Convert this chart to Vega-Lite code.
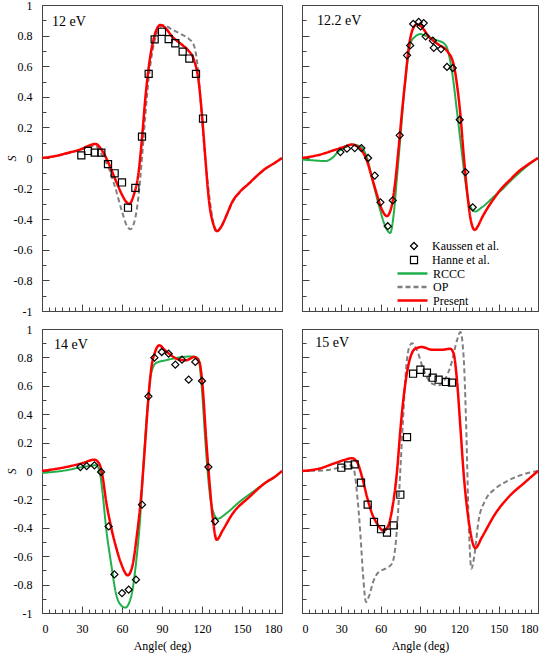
{
  "$schema": "https://vega.github.io/schema/vega-lite/v6.json",
  "padding": {"left": 4, "top": -2, "right": 5, "bottom": 2},
  "background": "white",
  "config": {
    "font": "Liberation Serif",
    "view": {"stroke": "#444444", "strokeWidth": 1},
    "axis": {
      "grid": false,
      "domainColor": "#444444",
      "tickColor": "#444444",
      "labelFont": "Liberation Serif",
      "labelFontSize": 12,
      "labelColor": "black",
      "labelOverlap": false,
      "tickCount": 100,
      "titleFont": "Liberation Serif",
      "titleFontSize": 12,
      "titleFontWeight": "normal",
      "titleColor": "black"
    },
    "legend": {
      "labelFont": "Liberation Serif",
      "labelFontSize": 12,
      "labelColor": "black"
    }
  },
  "datasets": {
    "curves": [
      {"panel": "12 eV", "series": "Present", "angle": 0, "S": 0},
      {"panel": "12 eV", "series": "Present", "angle": 10, "S": 0.013},
      {"panel": "12 eV", "series": "Present", "angle": 20, "S": 0.035},
      {"panel": "12 eV", "series": "Present", "angle": 30, "S": 0.06},
      {"panel": "12 eV", "series": "Present", "angle": 35, "S": 0.08},
      {"panel": "12 eV", "series": "Present", "angle": 40, "S": 0.092},
      {"panel": "12 eV", "series": "Present", "angle": 45, "S": 0.05},
      {"panel": "12 eV", "series": "Present", "angle": 50, "S": -0.035},
      {"panel": "12 eV", "series": "Present", "angle": 55, "S": -0.14},
      {"panel": "12 eV", "series": "Present", "angle": 60, "S": -0.24},
      {"panel": "12 eV", "series": "Present", "angle": 63, "S": -0.285},
      {"panel": "12 eV", "series": "Present", "angle": 65.5, "S": -0.3},
      {"panel": "12 eV", "series": "Present", "angle": 68.5, "S": -0.25},
      {"panel": "12 eV", "series": "Present", "angle": 72.5, "S": -0.09},
      {"panel": "12 eV", "series": "Present", "angle": 75, "S": 0.13},
      {"panel": "12 eV", "series": "Present", "angle": 77.5, "S": 0.39},
      {"panel": "12 eV", "series": "Present", "angle": 80, "S": 0.59},
      {"panel": "12 eV", "series": "Present", "angle": 83.8, "S": 0.78},
      {"panel": "12 eV", "series": "Present", "angle": 86.5, "S": 0.85},
      {"panel": "12 eV", "series": "Present", "angle": 88.8, "S": 0.87},
      {"panel": "12 eV", "series": "Present", "angle": 92.5, "S": 0.85},
      {"panel": "12 eV", "series": "Present", "angle": 97.5, "S": 0.795},
      {"panel": "12 eV", "series": "Present", "angle": 105, "S": 0.74},
      {"panel": "12 eV", "series": "Present", "angle": 110, "S": 0.7},
      {"panel": "12 eV", "series": "Present", "angle": 113.8, "S": 0.645},
      {"panel": "12 eV", "series": "Present", "angle": 117.5, "S": 0.5},
      {"panel": "12 eV", "series": "Present", "angle": 120, "S": 0.28},
      {"panel": "12 eV", "series": "Present", "angle": 122.5, "S": 0},
      {"panel": "12 eV", "series": "Present", "angle": 125, "S": -0.26},
      {"panel": "12 eV", "series": "Present", "angle": 128.8, "S": -0.44},
      {"panel": "12 eV", "series": "Present", "angle": 131.3, "S": -0.478},
      {"panel": "12 eV", "series": "Present", "angle": 135, "S": -0.44},
      {"panel": "12 eV", "series": "Present", "angle": 138.8, "S": -0.365},
      {"panel": "12 eV", "series": "Present", "angle": 142.5, "S": -0.29},
      {"panel": "12 eV", "series": "Present", "angle": 148, "S": -0.225},
      {"panel": "12 eV", "series": "Present", "angle": 155, "S": -0.168},
      {"panel": "12 eV", "series": "Present", "angle": 162, "S": -0.11},
      {"panel": "12 eV", "series": "Present", "angle": 167.5, "S": -0.07},
      {"panel": "12 eV", "series": "Present", "angle": 174, "S": -0.035},
      {"panel": "12 eV", "series": "Present", "angle": 180, "S": 0},

      {"panel": "12 eV", "series": "OP", "angle": 0, "S": 0},
      {"panel": "12 eV", "series": "OP", "angle": 10, "S": 0.012},
      {"panel": "12 eV", "series": "OP", "angle": 20, "S": 0.033},
      {"panel": "12 eV", "series": "OP", "angle": 30, "S": 0.058},
      {"panel": "12 eV", "series": "OP", "angle": 35, "S": 0.075},
      {"panel": "12 eV", "series": "OP", "angle": 40, "S": 0.08},
      {"panel": "12 eV", "series": "OP", "angle": 45, "S": 0.02},
      {"panel": "12 eV", "series": "OP", "angle": 50, "S": -0.065},
      {"panel": "12 eV", "series": "OP", "angle": 55, "S": -0.196},
      {"panel": "12 eV", "series": "OP", "angle": 60, "S": -0.35},
      {"panel": "12 eV", "series": "OP", "angle": 63.8, "S": -0.446},
      {"panel": "12 eV", "series": "OP", "angle": 66.3, "S": -0.465},
      {"panel": "12 eV", "series": "OP", "angle": 70, "S": -0.39},
      {"panel": "12 eV", "series": "OP", "angle": 72.5, "S": -0.24},
      {"panel": "12 eV", "series": "OP", "angle": 75, "S": 0},
      {"panel": "12 eV", "series": "OP", "angle": 77.5, "S": 0.28},
      {"panel": "12 eV", "series": "OP", "angle": 80, "S": 0.52},
      {"panel": "12 eV", "series": "OP", "angle": 83.8, "S": 0.74},
      {"panel": "12 eV", "series": "OP", "angle": 87.5, "S": 0.84},
      {"panel": "12 eV", "series": "OP", "angle": 91.3, "S": 0.867},
      {"panel": "12 eV", "series": "OP", "angle": 97.5, "S": 0.84},
      {"panel": "12 eV", "series": "OP", "angle": 105, "S": 0.806},
      {"panel": "12 eV", "series": "OP", "angle": 110, "S": 0.78},
      {"panel": "12 eV", "series": "OP", "angle": 113.8, "S": 0.74},
      {"panel": "12 eV", "series": "OP", "angle": 116.3, "S": 0.63},
      {"panel": "12 eV", "series": "OP", "angle": 118.8, "S": 0.39},
      {"panel": "12 eV", "series": "OP", "angle": 121.3, "S": 0.11},
      {"panel": "12 eV", "series": "OP", "angle": 125, "S": -0.216},
      {"panel": "12 eV", "series": "OP", "angle": 128.8, "S": -0.436},
      {"panel": "12 eV", "series": "OP", "angle": 130.8, "S": -0.485},
      {"panel": "12 eV", "series": "OP", "angle": 134, "S": -0.45},
      {"panel": "12 eV", "series": "OP", "angle": 138.8, "S": -0.37},
      {"panel": "12 eV", "series": "OP", "angle": 142.5, "S": -0.295},
      {"panel": "12 eV", "series": "OP", "angle": 148, "S": -0.228},
      {"panel": "12 eV", "series": "OP", "angle": 155, "S": -0.17},
      {"panel": "12 eV", "series": "OP", "angle": 162, "S": -0.112},
      {"panel": "12 eV", "series": "OP", "angle": 167.5, "S": -0.072},
      {"panel": "12 eV", "series": "OP", "angle": 174, "S": -0.036},
      {"panel": "12 eV", "series": "OP", "angle": 180, "S": 0},

      {"panel": "12.2 eV", "series": "Present", "angle": 0, "S": 0},
      {"panel": "12.2 eV", "series": "Present", "angle": 12.7, "S": 0.02},
      {"panel": "12.2 eV", "series": "Present", "angle": 25.4, "S": 0.054},
      {"panel": "12.2 eV", "series": "Present", "angle": 33, "S": 0.075},
      {"panel": "12.2 eV", "series": "Present", "angle": 38, "S": 0.088},
      {"panel": "12.2 eV", "series": "Present", "angle": 44.5, "S": 0.06},
      {"panel": "12.2 eV", "series": "Present", "angle": 49.6, "S": -0.02},
      {"panel": "12.2 eV", "series": "Present", "angle": 53.4, "S": -0.13},
      {"panel": "12.2 eV", "series": "Present", "angle": 57.2, "S": -0.24},
      {"panel": "12.2 eV", "series": "Present", "angle": 61, "S": -0.338},
      {"panel": "12.2 eV", "series": "Present", "angle": 64.8, "S": -0.38},
      {"panel": "12.2 eV", "series": "Present", "angle": 68.6, "S": -0.305},
      {"panel": "12.2 eV", "series": "Present", "angle": 71.2, "S": -0.15},
      {"panel": "12.2 eV", "series": "Present", "angle": 73.7, "S": 0.065},
      {"panel": "12.2 eV", "series": "Present", "angle": 76.3, "S": 0.305},
      {"panel": "12.2 eV", "series": "Present", "angle": 78.9, "S": 0.52},
      {"panel": "12.2 eV", "series": "Present", "angle": 81.4, "S": 0.72},
      {"panel": "12.2 eV", "series": "Present", "angle": 84.4, "S": 0.84},
      {"panel": "12.2 eV", "series": "Present", "angle": 87.7, "S": 0.875},
      {"panel": "12.2 eV", "series": "Present", "angle": 91.5, "S": 0.854},
      {"panel": "12.2 eV", "series": "Present", "angle": 96.6, "S": 0.795},
      {"panel": "12.2 eV", "series": "Present", "angle": 104.3, "S": 0.74},
      {"panel": "12.2 eV", "series": "Present", "angle": 110.6, "S": 0.7},
      {"panel": "12.2 eV", "series": "Present", "angle": 115.7, "S": 0.61},
      {"panel": "12.2 eV", "series": "Present", "angle": 118.2, "S": 0.48},
      {"panel": "12.2 eV", "series": "Present", "angle": 120.8, "S": 0.283},
      {"panel": "12.2 eV", "series": "Present", "angle": 123.3, "S": 0.022},
      {"panel": "12.2 eV", "series": "Present", "angle": 125.9, "S": -0.218},
      {"panel": "12.2 eV", "series": "Present", "angle": 128.4, "S": -0.39},
      {"panel": "12.2 eV", "series": "Present", "angle": 131.7, "S": -0.47},
      {"panel": "12.2 eV", "series": "Present", "angle": 134.5, "S": -0.44},
      {"panel": "12.2 eV", "series": "Present", "angle": 137.3, "S": -0.39},
      {"panel": "12.2 eV", "series": "Present", "angle": 139.9, "S": -0.35},
      {"panel": "12.2 eV", "series": "Present", "angle": 146, "S": -0.27},
      {"panel": "12.2 eV", "series": "Present", "angle": 152.5, "S": -0.196},
      {"panel": "12.2 eV", "series": "Present", "angle": 159, "S": -0.14},
      {"panel": "12.2 eV", "series": "Present", "angle": 165.3, "S": -0.087},
      {"panel": "12.2 eV", "series": "Present", "angle": 172, "S": -0.045},
      {"panel": "12.2 eV", "series": "Present", "angle": 180, "S": 0},

      {"panel": "12.2 eV", "series": "RCCC", "angle": 0, "S": -0.01},
      {"panel": "12.2 eV", "series": "RCCC", "angle": 8, "S": -0.015},
      {"panel": "12.2 eV", "series": "RCCC", "angle": 17.8, "S": -0.02},
      {"panel": "12.2 eV", "series": "RCCC", "angle": 23, "S": 0},
      {"panel": "12.2 eV", "series": "RCCC", "angle": 28, "S": 0.044},
      {"panel": "12.2 eV", "series": "RCCC", "angle": 33, "S": 0.07},
      {"panel": "12.2 eV", "series": "RCCC", "angle": 38, "S": 0.087},
      {"panel": "12.2 eV", "series": "RCCC", "angle": 44.5, "S": 0.076},
      {"panel": "12.2 eV", "series": "RCCC", "angle": 49.6, "S": 0},
      {"panel": "12.2 eV", "series": "RCCC", "angle": 53.4, "S": -0.13},
      {"panel": "12.2 eV", "series": "RCCC", "angle": 58.5, "S": -0.305},
      {"panel": "12.2 eV", "series": "RCCC", "angle": 63.5, "S": -0.446},
      {"panel": "12.2 eV", "series": "RCCC", "angle": 67.3, "S": -0.49},
      {"panel": "12.2 eV", "series": "RCCC", "angle": 69.9, "S": -0.37},
      {"panel": "12.2 eV", "series": "RCCC", "angle": 72.4, "S": -0.13},
      {"panel": "12.2 eV", "series": "RCCC", "angle": 75, "S": 0.13},
      {"panel": "12.2 eV", "series": "RCCC", "angle": 77.5, "S": 0.39},
      {"panel": "12.2 eV", "series": "RCCC", "angle": 80.1, "S": 0.61},
      {"panel": "12.2 eV", "series": "RCCC", "angle": 82.7, "S": 0.75},
      {"panel": "12.2 eV", "series": "RCCC", "angle": 86.5, "S": 0.795},
      {"panel": "12.2 eV", "series": "RCCC", "angle": 90.3, "S": 0.81},
      {"panel": "12.2 eV", "series": "RCCC", "angle": 95.4, "S": 0.795},
      {"panel": "12.2 eV", "series": "RCCC", "angle": 101.7, "S": 0.773},
      {"panel": "12.2 eV", "series": "RCCC", "angle": 108.1, "S": 0.75},
      {"panel": "12.2 eV", "series": "RCCC", "angle": 110.6, "S": 0.72},
      {"panel": "12.2 eV", "series": "RCCC", "angle": 114.4, "S": 0.567},
      {"panel": "12.2 eV", "series": "RCCC", "angle": 118.2, "S": 0.305},
      {"panel": "12.2 eV", "series": "RCCC", "angle": 121.5, "S": 0.065},
      {"panel": "12.2 eV", "series": "RCCC", "angle": 124.6, "S": -0.152},
      {"panel": "12.2 eV", "series": "RCCC", "angle": 127.7, "S": -0.305},
      {"panel": "12.2 eV", "series": "RCCC", "angle": 132.2, "S": -0.35},
      {"panel": "12.2 eV", "series": "RCCC", "angle": 136, "S": -0.33},
      {"panel": "12.2 eV", "series": "RCCC", "angle": 139.8, "S": -0.305},
      {"panel": "12.2 eV", "series": "RCCC", "angle": 146, "S": -0.255},
      {"panel": "12.2 eV", "series": "RCCC", "angle": 152.5, "S": -0.207},
      {"panel": "12.2 eV", "series": "RCCC", "angle": 159, "S": -0.15},
      {"panel": "12.2 eV", "series": "RCCC", "angle": 165.3, "S": -0.1},
      {"panel": "12.2 eV", "series": "RCCC", "angle": 172, "S": -0.05},
      {"panel": "12.2 eV", "series": "RCCC", "angle": 180, "S": 0},

      {"panel": "14 eV", "series": "Present", "angle": 0, "S": 0},
      {"panel": "14 eV", "series": "Present", "angle": 18, "S": 0.028},
      {"panel": "14 eV", "series": "Present", "angle": 30.5, "S": 0.056},
      {"panel": "14 eV", "series": "Present", "angle": 39.3, "S": 0.08},
      {"panel": "14 eV", "series": "Present", "angle": 43, "S": 0.05},
      {"panel": "14 eV", "series": "Present", "angle": 45.5, "S": -0.042},
      {"panel": "14 eV", "series": "Present", "angle": 48, "S": -0.207},
      {"panel": "14 eV", "series": "Present", "angle": 51.8, "S": -0.394},
      {"panel": "14 eV", "series": "Present", "angle": 55.5, "S": -0.535},
      {"panel": "14 eV", "series": "Present", "angle": 59.3, "S": -0.65},
      {"panel": "14 eV", "series": "Present", "angle": 64.3, "S": -0.735},
      {"panel": "14 eV", "series": "Present", "angle": 68, "S": -0.66},
      {"panel": "14 eV", "series": "Present", "angle": 71, "S": -0.465},
      {"panel": "14 eV", "series": "Present", "angle": 74.3, "S": -0.183},
      {"panel": "14 eV", "series": "Present", "angle": 76.8, "S": 0.122},
      {"panel": "14 eV", "series": "Present", "angle": 79.3, "S": 0.45},
      {"panel": "14 eV", "series": "Present", "angle": 81.8, "S": 0.71},
      {"panel": "14 eV", "series": "Present", "angle": 84.8, "S": 0.838},
      {"panel": "14 eV", "series": "Present", "angle": 88, "S": 0.885},
      {"panel": "14 eV", "series": "Present", "angle": 91.8, "S": 0.854},
      {"panel": "14 eV", "series": "Present", "angle": 96.8, "S": 0.815},
      {"panel": "14 eV", "series": "Present", "angle": 103, "S": 0.784},
      {"panel": "14 eV", "series": "Present", "angle": 108, "S": 0.78},
      {"panel": "14 eV", "series": "Present", "angle": 114.3, "S": 0.803},
      {"panel": "14 eV", "series": "Present", "angle": 118, "S": 0.768},
      {"panel": "14 eV", "series": "Present", "angle": 120.5, "S": 0.59},
      {"panel": "14 eV", "series": "Present", "angle": 123, "S": 0.24},
      {"panel": "14 eV", "series": "Present", "angle": 125.5, "S": -0.066},
      {"panel": "14 eV", "series": "Present", "angle": 128, "S": -0.324},
      {"panel": "14 eV", "series": "Present", "angle": 131, "S": -0.484},
      {"panel": "14 eV", "series": "Present", "angle": 135.5, "S": -0.418},
      {"panel": "14 eV", "series": "Present", "angle": 143, "S": -0.3},
      {"panel": "14 eV", "series": "Present", "angle": 155.5, "S": -0.183},
      {"panel": "14 eV", "series": "Present", "angle": 168, "S": -0.08},
      {"panel": "14 eV", "series": "Present", "angle": 174, "S": -0.045},
      {"panel": "14 eV", "series": "Present", "angle": 180, "S": 0},

      {"panel": "14 eV", "series": "RCCC", "angle": 0, "S": -0.014},
      {"panel": "14 eV", "series": "RCCC", "angle": 18, "S": 0.005},
      {"panel": "14 eV", "series": "RCCC", "angle": 30.5, "S": 0.028},
      {"panel": "14 eV", "series": "RCCC", "angle": 40.5, "S": 0.04},
      {"panel": "14 eV", "series": "RCCC", "angle": 43, "S": 0.005},
      {"panel": "14 eV", "series": "RCCC", "angle": 45.5, "S": -0.16},
      {"panel": "14 eV", "series": "RCCC", "angle": 48, "S": -0.394},
      {"panel": "14 eV", "series": "RCCC", "angle": 51.8, "S": -0.65},
      {"panel": "14 eV", "series": "RCCC", "angle": 55.5, "S": -0.864},
      {"panel": "14 eV", "series": "RCCC", "angle": 59.3, "S": -0.946},
      {"panel": "14 eV", "series": "RCCC", "angle": 62.5, "S": -0.962},
      {"panel": "14 eV", "series": "RCCC", "angle": 66.8, "S": -0.887},
      {"panel": "14 eV", "series": "RCCC", "angle": 70.5, "S": -0.65},
      {"panel": "14 eV", "series": "RCCC", "angle": 73.5, "S": -0.347},
      {"panel": "14 eV", "series": "RCCC", "angle": 76, "S": 0.028},
      {"panel": "14 eV", "series": "RCCC", "angle": 78.5, "S": 0.38},
      {"panel": "14 eV", "series": "RCCC", "angle": 81.8, "S": 0.685},
      {"panel": "14 eV", "series": "RCCC", "angle": 85.5, "S": 0.76},
      {"panel": "14 eV", "series": "RCCC", "angle": 93, "S": 0.78},
      {"panel": "14 eV", "series": "RCCC", "angle": 103, "S": 0.8},
      {"panel": "14 eV", "series": "RCCC", "angle": 113, "S": 0.807},
      {"panel": "14 eV", "series": "RCCC", "angle": 117.3, "S": 0.79},
      {"panel": "14 eV", "series": "RCCC", "angle": 119.8, "S": 0.59},
      {"panel": "14 eV", "series": "RCCC", "angle": 122.3, "S": 0.24},
      {"panel": "14 eV", "series": "RCCC", "angle": 124.8, "S": -0.066},
      {"panel": "14 eV", "series": "RCCC", "angle": 128, "S": -0.277},
      {"panel": "14 eV", "series": "RCCC", "angle": 131.8, "S": -0.336},
      {"panel": "14 eV", "series": "RCCC", "angle": 138, "S": -0.3},
      {"panel": "14 eV", "series": "RCCC", "angle": 148, "S": -0.218},
      {"panel": "14 eV", "series": "RCCC", "angle": 158, "S": -0.148},
      {"panel": "14 eV", "series": "RCCC", "angle": 168, "S": -0.08},
      {"panel": "14 eV", "series": "RCCC", "angle": 174, "S": -0.045},
      {"panel": "14 eV", "series": "RCCC", "angle": 180, "S": 0},

      {"panel": "15 eV", "series": "Present", "angle": 0, "S": 0},
      {"panel": "15 eV", "series": "Present", "angle": 12.7, "S": 0.016},
      {"panel": "15 eV", "series": "Present", "angle": 25.4, "S": 0.056},
      {"panel": "15 eV", "series": "Present", "angle": 33, "S": 0.08},
      {"panel": "15 eV", "series": "Present", "angle": 38.1, "S": 0.09},
      {"panel": "15 eV", "series": "Present", "angle": 42, "S": 0.063},
      {"panel": "15 eV", "series": "Present", "angle": 45.8, "S": -0.042},
      {"panel": "15 eV", "series": "Present", "angle": 49.6, "S": -0.183},
      {"panel": "15 eV", "series": "Present", "angle": 53.4, "S": -0.3},
      {"panel": "15 eV", "series": "Present", "angle": 57.2, "S": -0.37},
      {"panel": "15 eV", "series": "Present", "angle": 62.3, "S": -0.42},
      {"panel": "15 eV", "series": "Present", "angle": 65.6, "S": -0.39},
      {"panel": "15 eV", "series": "Present", "angle": 68.6, "S": -0.277},
      {"panel": "15 eV", "series": "Present", "angle": 72.5, "S": 0},
      {"panel": "15 eV", "series": "Present", "angle": 75, "S": 0.286},
      {"panel": "15 eV", "series": "Present", "angle": 77.5, "S": 0.52},
      {"panel": "15 eV", "series": "Present", "angle": 81.4, "S": 0.756},
      {"panel": "15 eV", "series": "Present", "angle": 86.4, "S": 0.861},
      {"panel": "15 eV", "series": "Present", "angle": 91.5, "S": 0.873},
      {"panel": "15 eV", "series": "Present", "angle": 99.2, "S": 0.854},
      {"panel": "15 eV", "series": "Present", "angle": 106.8, "S": 0.854},
      {"panel": "15 eV", "series": "Present", "angle": 113.1, "S": 0.861},
      {"panel": "15 eV", "series": "Present", "angle": 115.7, "S": 0.826},
      {"panel": "15 eV", "series": "Present", "angle": 118.2, "S": 0.638},
      {"panel": "15 eV", "series": "Present", "angle": 120.8, "S": 0.31},
      {"panel": "15 eV", "series": "Present", "angle": 123.3, "S": -0.019},
      {"panel": "15 eV", "series": "Present", "angle": 127.1, "S": -0.347},
      {"panel": "15 eV", "series": "Present", "angle": 132.2, "S": -0.542},
      {"panel": "15 eV", "series": "Present", "angle": 137.3, "S": -0.465},
      {"panel": "15 eV", "series": "Present", "angle": 147.5, "S": -0.3},
      {"panel": "15 eV", "series": "Present", "angle": 157.6, "S": -0.183},
      {"panel": "15 eV", "series": "Present", "angle": 170.4, "S": -0.077},
      {"panel": "15 eV", "series": "Present", "angle": 180, "S": 0},

      {"panel": "15 eV", "series": "OP", "angle": 0, "S": 0},
      {"panel": "15 eV", "series": "OP", "angle": 17.8, "S": 0.005},
      {"panel": "15 eV", "series": "OP", "angle": 30.5, "S": 0.028},
      {"panel": "15 eV", "series": "OP", "angle": 36.9, "S": 0.04},
      {"panel": "15 eV", "series": "OP", "angle": 39.4, "S": 0.016},
      {"panel": "15 eV", "series": "OP", "angle": 42, "S": -0.16},
      {"panel": "15 eV", "series": "OP", "angle": 44.5, "S": -0.44},
      {"panel": "15 eV", "series": "OP", "angle": 46.5, "S": -0.723},
      {"panel": "15 eV", "series": "OP", "angle": 48.8, "S": -0.923},
      {"panel": "15 eV", "series": "OP", "angle": 50.9, "S": -0.887},
      {"panel": "15 eV", "series": "OP", "angle": 54.7, "S": -0.77},
      {"panel": "15 eV", "series": "OP", "angle": 58.5, "S": -0.711},
      {"panel": "15 eV", "series": "OP", "angle": 63.6, "S": -0.688},
      {"panel": "15 eV", "series": "OP", "angle": 68.6, "S": -0.653},
      {"panel": "15 eV", "series": "OP", "angle": 71.2, "S": -0.535},
      {"panel": "15 eV", "series": "OP", "angle": 73.2, "S": -0.3},
      {"panel": "15 eV", "series": "OP", "angle": 75, "S": 0.005},
      {"panel": "15 eV", "series": "OP", "angle": 77, "S": 0.357},
      {"panel": "15 eV", "series": "OP", "angle": 79.3, "S": 0.709},
      {"panel": "15 eV", "series": "OP", "angle": 81.4, "S": 0.861},
      {"panel": "15 eV", "series": "OP", "angle": 83.9, "S": 0.9},
      {"panel": "15 eV", "series": "OP", "angle": 87.7, "S": 0.85},
      {"panel": "15 eV", "series": "OP", "angle": 92.8, "S": 0.709},
      {"panel": "15 eV", "series": "OP", "angle": 99.2, "S": 0.615},
      {"panel": "15 eV", "series": "OP", "angle": 104.2, "S": 0.603},
      {"panel": "15 eV", "series": "OP", "angle": 109.3, "S": 0.65},
      {"panel": "15 eV", "series": "OP", "angle": 113.9, "S": 0.756},
      {"panel": "15 eV", "series": "OP", "angle": 118.2, "S": 0.92},
      {"panel": "15 eV", "series": "OP", "angle": 120.8, "S": 0.979},
      {"panel": "15 eV", "series": "OP", "angle": 123.3, "S": 0.8},
      {"panel": "15 eV", "series": "OP", "angle": 125.1, "S": 0.357},
      {"panel": "15 eV", "series": "OP", "angle": 127.1, "S": -0.347},
      {"panel": "15 eV", "series": "OP", "angle": 129.2, "S": -0.688},
      {"panel": "15 eV", "series": "OP", "angle": 131.7, "S": -0.58},
      {"panel": "15 eV", "series": "OP", "angle": 134.7, "S": -0.347},
      {"panel": "15 eV", "series": "OP", "angle": 139.8, "S": -0.207},
      {"panel": "15 eV", "series": "OP", "angle": 147.5, "S": -0.124},
      {"panel": "15 eV", "series": "OP", "angle": 157.6, "S": -0.066},
      {"panel": "15 eV", "series": "OP", "angle": 170.4, "S": -0.019},
      {"panel": "15 eV", "series": "OP", "angle": 180, "S": 0}
    ],
    "measured": [
      {"panel": "12 eV", "source": "Hanne et al.", "angle": 29.5, "S": 0.017},
      {"panel": "12 eV", "source": "Hanne et al.", "angle": 34.5, "S": 0.046},
      {"panel": "12 eV", "source": "Hanne et al.", "angle": 39.5, "S": 0.035},
      {"panel": "12 eV", "source": "Hanne et al.", "angle": 44.5, "S": 0.035},
      {"panel": "12 eV", "source": "Hanne et al.", "angle": 49.5, "S": -0.04},
      {"panel": "12 eV", "source": "Hanne et al.", "angle": 54.5, "S": -0.1},
      {"panel": "12 eV", "source": "Hanne et al.", "angle": 60, "S": -0.16},
      {"panel": "12 eV", "source": "Hanne et al.", "angle": 64.5, "S": -0.325},
      {"panel": "12 eV", "source": "Hanne et al.", "angle": 70, "S": -0.195},
      {"panel": "12 eV", "source": "Hanne et al.", "angle": 75, "S": 0.14},
      {"panel": "12 eV", "source": "Hanne et al.", "angle": 80, "S": 0.55},
      {"panel": "12 eV", "source": "Hanne et al.", "angle": 84.5, "S": 0.775},
      {"panel": "12 eV", "source": "Hanne et al.", "angle": 90, "S": 0.825},
      {"panel": "12 eV", "source": "Hanne et al.", "angle": 95, "S": 0.777},
      {"panel": "12 eV", "source": "Hanne et al.", "angle": 100, "S": 0.75},
      {"panel": "12 eV", "source": "Hanne et al.", "angle": 105.5, "S": 0.695},
      {"panel": "12 eV", "source": "Hanne et al.", "angle": 110.5, "S": 0.65},
      {"panel": "12 eV", "source": "Hanne et al.", "angle": 115.5, "S": 0.55},
      {"panel": "12 eV", "source": "Hanne et al.", "angle": 120.75, "S": 0.258},

      {"panel": "12.2 eV", "source": "Kaussen et al.", "angle": 29.3, "S": 0.039},
      {"panel": "12.2 eV", "source": "Kaussen et al.", "angle": 34.3, "S": 0.061},
      {"panel": "12.2 eV", "source": "Kaussen et al.", "angle": 40.2, "S": 0.065},
      {"panel": "12.2 eV", "source": "Kaussen et al.", "angle": 45.3, "S": 0.065},
      {"panel": "12.2 eV", "source": "Kaussen et al.", "angle": 50.4, "S": 0},
      {"panel": "12.2 eV", "source": "Kaussen et al.", "angle": 55.5, "S": -0.115},
      {"panel": "12.2 eV", "source": "Kaussen et al.", "angle": 59.8, "S": -0.29},
      {"panel": "12.2 eV", "source": "Kaussen et al.", "angle": 65.4, "S": -0.446},
      {"panel": "12.2 eV", "source": "Kaussen et al.", "angle": 69.2, "S": -0.277},
      {"panel": "12.2 eV", "source": "Kaussen et al.", "angle": 74.5, "S": 0.148},
      {"panel": "12.2 eV", "source": "Kaussen et al.", "angle": 80.1, "S": 0.671},
      {"panel": "12.2 eV", "source": "Kaussen et al.", "angle": 82.5, "S": 0.736},
      {"panel": "12.2 eV", "source": "Kaussen et al.", "angle": 84.8, "S": 0.876},
      {"panel": "12.2 eV", "source": "Kaussen et al.", "angle": 89, "S": 0.889},
      {"panel": "12.2 eV", "source": "Kaussen et al.", "angle": 90.4, "S": 0.86},
      {"panel": "12.2 eV", "source": "Kaussen et al.", "angle": 92.8, "S": 0.882},
      {"panel": "12.2 eV", "source": "Kaussen et al.", "angle": 94.3, "S": 0.795},
      {"panel": "12.2 eV", "source": "Kaussen et al.", "angle": 99.8, "S": 0.767},
      {"panel": "12.2 eV", "source": "Kaussen et al.", "angle": 100.5, "S": 0.72},
      {"panel": "12.2 eV", "source": "Kaussen et al.", "angle": 106, "S": 0.712},
      {"panel": "12.2 eV", "source": "Kaussen et al.", "angle": 110.6, "S": 0.595},
      {"panel": "12.2 eV", "source": "Kaussen et al.", "angle": 115, "S": 0.588},
      {"panel": "12.2 eV", "source": "Kaussen et al.", "angle": 120.3, "S": 0.25},
      {"panel": "12.2 eV", "source": "Kaussen et al.", "angle": 124.6, "S": -0.092},
      {"panel": "12.2 eV", "source": "Kaussen et al.", "angle": 130.2, "S": -0.322},

      {"panel": "14 eV", "source": "Kaussen et al.", "angle": 28.8, "S": 0.028},
      {"panel": "14 eV", "source": "Kaussen et al.", "angle": 33.5, "S": 0.035},
      {"panel": "14 eV", "source": "Kaussen et al.", "angle": 39.3, "S": 0.04},
      {"panel": "14 eV", "source": "Kaussen et al.", "angle": 44.3, "S": -0.007},
      {"panel": "14 eV", "source": "Kaussen et al.", "angle": 50, "S": -0.39},
      {"panel": "14 eV", "source": "Kaussen et al.", "angle": 54.3, "S": -0.728},
      {"panel": "14 eV", "source": "Kaussen et al.", "angle": 60, "S": -0.86},
      {"panel": "14 eV", "source": "Kaussen et al.", "angle": 65, "S": -0.836},
      {"panel": "14 eV", "source": "Kaussen et al.", "angle": 70.5, "S": -0.765},
      {"panel": "14 eV", "source": "Kaussen et al.", "angle": 75, "S": -0.237},
      {"panel": "14 eV", "source": "Kaussen et al.", "angle": 79.8, "S": 0.526},
      {"panel": "14 eV", "source": "Kaussen et al.", "angle": 84.3, "S": 0.798},
      {"panel": "14 eV", "source": "Kaussen et al.", "angle": 89.8, "S": 0.838},
      {"panel": "14 eV", "source": "Kaussen et al.", "angle": 95, "S": 0.826},
      {"panel": "14 eV", "source": "Kaussen et al.", "angle": 100, "S": 0.749},
      {"panel": "14 eV", "source": "Kaussen et al.", "angle": 105, "S": 0.784},
      {"panel": "14 eV", "source": "Kaussen et al.", "angle": 110, "S": 0.643},
      {"panel": "14 eV", "source": "Kaussen et al.", "angle": 115, "S": 0.768},
      {"panel": "14 eV", "source": "Kaussen et al.", "angle": 120, "S": 0.634},
      {"panel": "14 eV", "source": "Kaussen et al.", "angle": 124.8, "S": 0.028},
      {"panel": "14 eV", "source": "Kaussen et al.", "angle": 129.8, "S": -0.354},

      {"panel": "15 eV", "source": "Hanne et al.", "angle": 30, "S": 0.023},
      {"panel": "15 eV", "source": "Hanne et al.", "angle": 35.1, "S": 0.04},
      {"panel": "15 eV", "source": "Hanne et al.", "angle": 40.2, "S": 0.047},
      {"panel": "15 eV", "source": "Hanne et al.", "angle": 45, "S": -0.082},
      {"panel": "15 eV", "source": "Hanne et al.", "angle": 50.1, "S": -0.237},
      {"panel": "15 eV", "source": "Hanne et al.", "angle": 54.9, "S": -0.359},
      {"panel": "15 eV", "source": "Hanne et al.", "angle": 60.3, "S": -0.41},
      {"panel": "15 eV", "source": "Hanne et al.", "angle": 64.8, "S": -0.434},
      {"panel": "15 eV", "source": "Hanne et al.", "angle": 69.9, "S": -0.383},
      {"panel": "15 eV", "source": "Hanne et al.", "angle": 75, "S": -0.167},
      {"panel": "15 eV", "source": "Hanne et al.", "angle": 80.1, "S": 0.239},
      {"panel": "15 eV", "source": "Hanne et al.", "angle": 84.7, "S": 0.685},
      {"panel": "15 eV", "source": "Hanne et al.", "angle": 90.3, "S": 0.713},
      {"panel": "15 eV", "source": "Hanne et al.", "angle": 95.3, "S": 0.692},
      {"panel": "15 eV", "source": "Hanne et al.", "angle": 99.7, "S": 0.657},
      {"panel": "15 eV", "source": "Hanne et al.", "angle": 104.2, "S": 0.643},
      {"panel": "15 eV", "source": "Hanne et al.", "angle": 109.8, "S": 0.627},
      {"panel": "15 eV", "source": "Hanne et al.", "angle": 114.4, "S": 0.622}
    ]
  },
  "resolve": {
    "scale": {"color": "independent", "strokeDash": "independent", "shape": "independent"},
    "legend": {"color": "independent", "strokeDash": "independent", "shape": "independent"}
  },
  "spacing": 4,
  "vconcat": [
    {
      "spacing": 20,
      "bounds": "flush",
      "resolve": {
        "scale": {"color": "independent", "strokeDash": "independent", "shape": "independent"},
        "legend": {"color": "independent", "strokeDash": "independent", "shape": "independent"}
      },
      "hconcat": [
        {
          "width": 240,
          "height": 306,
          "layer": [
            {
              "data": {"name": "curves"},
              "transform": [{"filter": "datum.panel === '12 eV' && datum.series !== 'Present'"}],
              "mark": {"type": "line", "interpolate": "monotone", "strokeWidth": 2},
              "encoding": {
                "x": {"field": "angle", "type": "quantitative", "scale": {"domain": [0, 180], "nice": false},
                  "axis": {"values": [0,5,10,15,20,25,30,35,40,45,50,55,60,65,70,75,80,85,90,95,100,105,110,115,120,125,130,135,140,145,150,155,160,165,170,175,180],
                    "labels": false, "title": null, "labelOverlap": false, "tickCount": 100,
                    "tickSize": {"condition": {"test": "datum.value % 30 === 0", "value": -7}, "value": -4}}},
                "y": {"field": "S", "type": "quantitative", "scale": {"domain": [-1, 1], "nice": false},
                  "axis": {"values": [-1,-0.9,-0.8,-0.7,-0.6,-0.5,-0.4,-0.3,-0.2,-0.1,0,0.1,0.2,0.3,0.4,0.5,0.6,0.7,0.8,0.9,1],
                    "labelExpr": "round(datum.value * 10) % 2 === 0 ? toString(round(datum.value * 10) / 10) : ''",
                    "labelOverlap": false, "tickCount": 100,
                    "tickSize": {"condition": {"test": "round(datum.value * 10) % 2 === 0", "value": -7}, "value": -4},
                    "labelPadding": 17, "title": "S", "titleFontStyle": "italic", "titlePadding": -5}},
                "color": {"field": "series", "type": "nominal", "legend": null,
                  "scale": {"domain": ["RCCC", "OP", "Present"], "range": ["#22b04b", "#808080", "#ff0000"]}},
                "strokeDash": {"field": "series", "type": "nominal", "legend": null,
                  "scale": {"domain": ["RCCC", "OP", "Present"], "range": [[1, 0], [5, 3], [1, 0]]}}
              }
            },
            {
              "data": {"name": "curves"},
              "transform": [{"filter": "datum.panel === '12 eV' && datum.series === 'Present'"}],
              "mark": {"type": "line", "interpolate": "monotone", "strokeWidth": 2.5},
              "encoding": {
                "x": {"field": "angle", "type": "quantitative"},
                "y": {"field": "S", "type": "quantitative"},
                "color": {"field": "series", "type": "nominal", "legend": null},
                "strokeDash": {"field": "series", "type": "nominal", "legend": null}
              }
            },
            {
              "data": {"name": "measured"},
              "transform": [{"filter": "datum.panel === '12 eV'"}],
              "mark": {"type": "point", "filled": false, "stroke": "black", "strokeWidth": 1.2, "size": 50, "opacity": 1},
              "encoding": {
                "x": {"field": "angle", "type": "quantitative"},
                "y": {"field": "S", "type": "quantitative"},
                "shape": {"field": "source", "type": "nominal", "legend": null,
                  "scale": {"domain": ["Kaussen et al.", "Hanne et al."], "range": ["diamond", "square"]}}
              }
            },
            {
              "data": {"values": [{"label": "12 eV"}]},
              "mark": {"type": "text", "align": "left", "baseline": "alphabetic", "fontSize": 14, "color": "black"},
              "encoding": {
                "x": {"datum": 7.5, "type": "quantitative"},
                "y": {"datum": 0.86, "type": "quantitative"},
                "text": {"field": "label"}
              }
            }
          ]
        },
        {
          "width": 236,
          "height": 306,
          "layer": [
            {
              "data": {"name": "curves"},
              "transform": [{"filter": "datum.panel === '12.2 eV' && datum.series !== 'Present'"}],
              "mark": {"type": "line", "interpolate": "monotone", "strokeWidth": 2},
              "encoding": {
                "x": {"field": "angle", "type": "quantitative", "scale": {"domain": [0, 180], "nice": false},
                  "axis": {"values": [0,5,10,15,20,25,30,35,40,45,50,55,60,65,70,75,80,85,90,95,100,105,110,115,120,125,130,135,140,145,150,155,160,165,170,175,180],
                    "labels": false, "title": null, "labelOverlap": false, "tickCount": 100,
                    "tickSize": {"condition": {"test": "datum.value % 30 === 0", "value": -7}, "value": -4}}},
                "y": {"field": "S", "type": "quantitative", "scale": {"domain": [-1, 1], "nice": false},
                  "axis": {"values": [-1,-0.9,-0.8,-0.7,-0.6,-0.5,-0.4,-0.3,-0.2,-0.1,0,0.1,0.2,0.3,0.4,0.5,0.6,0.7,0.8,0.9,1],
                    "labels": false, "title": null, "labelOverlap": false, "tickCount": 100,
                    "tickSize": {"condition": {"test": "round(datum.value * 10) % 2 === 0", "value": -7}, "value": -4}}},
                "color": {"field": "series", "type": "nominal",
                  "scale": {"domain": ["RCCC", "OP", "Present"], "range": ["#22b04b", "#808080", "#ff0000"]},
                  "legend": {"orient": "none", "legendX": 104, "legendY": 262, "title": null, "symbolType": "M-3,0H3",
                    "symbolSize": 100, "symbolStrokeWidth": 2.4, "labelOffset": 14, "rowPadding": 0.5, "padding": 0}},
                "strokeDash": {"field": "series", "type": "nominal",
                  "scale": {"domain": ["RCCC", "OP", "Present"], "range": [[1, 0], [5, 3], [1, 0]]},
                  "legend": {"orient": "none", "legendX": 104, "legendY": 262, "title": null, "symbolType": "M-3,0H3",
                    "symbolSize": 100, "symbolStrokeWidth": 2.4, "labelOffset": 14, "rowPadding": 0.5, "padding": 0}}
              }
            },
            {
              "data": {"name": "curves"},
              "transform": [{"filter": "datum.panel === '12.2 eV' && datum.series === 'Present'"}],
              "mark": {"type": "line", "interpolate": "monotone", "strokeWidth": 2.5},
              "encoding": {
                "x": {"field": "angle", "type": "quantitative"},
                "y": {"field": "S", "type": "quantitative"},
                "color": {"field": "series", "type": "nominal"},
                "strokeDash": {"field": "series", "type": "nominal"}
              }
            },
            {
              "data": {"name": "measured"},
              "transform": [{"filter": "datum.panel === '12.2 eV'"}],
              "mark": {"type": "point", "filled": false, "stroke": "black", "strokeWidth": 1.2, "size": 50, "opacity": 1},
              "encoding": {
                "x": {"field": "angle", "type": "quantitative"},
                "y": {"field": "S", "type": "quantitative"},
                "shape": {"field": "source", "type": "nominal",
                  "scale": {"domain": ["Kaussen et al.", "Hanne et al."], "range": ["diamond", "square"]},
                  "legend": {"orient": "none", "legendX": 106, "legendY": 235, "title": null,
                    "symbolSize": 50, "symbolStrokeColor": "black", "symbolStrokeWidth": 1.2,
                    "labelOffset": 12, "rowPadding": 2, "padding": 0}}
              }
            },
            {
              "data": {"values": [{"label": "12.2 eV"}]},
              "mark": {"type": "text", "align": "left", "baseline": "alphabetic", "fontSize": 14, "color": "black"},
              "encoding": {
                "x": {"datum": 11.4, "type": "quantitative"},
                "y": {"datum": 0.87, "type": "quantitative"},
                "text": {"field": "label"}
              }
            }
          ]
        }
      ]
    },
    {
      "spacing": 20,
      "bounds": "flush",
      "resolve": {
        "scale": {"color": "independent", "strokeDash": "independent", "shape": "independent"},
        "legend": {"color": "independent", "strokeDash": "independent", "shape": "independent"}
      },
      "hconcat": [
        {
          "width": 240,
          "height": 284,
          "layer": [
            {
              "data": {"name": "curves"},
              "transform": [{"filter": "datum.panel === '14 eV' && datum.series !== 'Present'"}],
              "mark": {"type": "line", "interpolate": "monotone", "strokeWidth": 2},
              "encoding": {
                "x": {"field": "angle", "type": "quantitative", "scale": {"domain": [0, 180], "nice": false},
                  "axis": {"values": [0,5,10,15,20,25,30,35,40,45,50,55,60,65,70,75,80,85,90,95,100,105,110,115,120,125,130,135,140,145,150,155,160,165,170,175,180],
                    "labelExpr": "datum.value % 30 === 0 ? datum.label : ''",
                    "labelOverlap": false, "tickCount": 100,
                    "labelPadding": 17, "title": "Angle( deg)", "titlePadding": 3,
                    "tickSize": {"condition": {"test": "datum.value % 30 === 0", "value": -7}, "value": -4}}},
                "y": {"field": "S", "type": "quantitative", "scale": {"domain": [-1, 1], "nice": false},
                  "axis": {"values": [-1,-0.9,-0.8,-0.7,-0.6,-0.5,-0.4,-0.3,-0.2,-0.1,0,0.1,0.2,0.3,0.4,0.5,0.6,0.7,0.8,0.9,1],
                    "labelExpr": "round(datum.value * 10) % 2 === 0 ? toString(round(datum.value * 10) / 10) : ''",
                    "labelOverlap": false, "tickCount": 100,
                    "tickSize": {"condition": {"test": "round(datum.value * 10) % 2 === 0", "value": -7}, "value": -4},
                    "labelPadding": 17, "title": "S", "titleFontStyle": "italic", "titlePadding": -5}},
                "color": {"field": "series", "type": "nominal", "legend": null,
                  "scale": {"domain": ["RCCC", "OP", "Present"], "range": ["#22b04b", "#808080", "#ff0000"]}},
                "strokeDash": {"field": "series", "type": "nominal", "legend": null,
                  "scale": {"domain": ["RCCC", "OP", "Present"], "range": [[1, 0], [5, 3], [1, 0]]}}
              }
            },
            {
              "data": {"name": "curves"},
              "transform": [{"filter": "datum.panel === '14 eV' && datum.series === 'Present'"}],
              "mark": {"type": "line", "interpolate": "monotone", "strokeWidth": 2.5},
              "encoding": {
                "x": {"field": "angle", "type": "quantitative"},
                "y": {"field": "S", "type": "quantitative"},
                "color": {"field": "series", "type": "nominal", "legend": null},
                "strokeDash": {"field": "series", "type": "nominal", "legend": null}
              }
            },
            {
              "data": {"name": "measured"},
              "transform": [{"filter": "datum.panel === '14 eV'"}],
              "mark": {"type": "point", "filled": false, "stroke": "black", "strokeWidth": 1.2, "size": 50, "opacity": 1},
              "encoding": {
                "x": {"field": "angle", "type": "quantitative"},
                "y": {"field": "S", "type": "quantitative"},
                "shape": {"field": "source", "type": "nominal", "legend": null,
                  "scale": {"domain": ["Kaussen et al.", "Hanne et al."], "range": ["diamond", "square"]}}
              }
            },
            {
              "data": {"values": [{"label": "14 eV"}]},
              "mark": {"type": "text", "align": "left", "baseline": "alphabetic", "fontSize": 14, "color": "black"},
              "encoding": {
                "x": {"datum": 9, "type": "quantitative"},
                "y": {"datum": 0.86, "type": "quantitative"},
                "text": {"field": "label"}
              }
            }
          ]
        },
        {
          "width": 236,
          "height": 284,
          "layer": [
            {
              "data": {"name": "curves"},
              "transform": [{"filter": "datum.panel === '15 eV' && datum.series !== 'Present'"}],
              "mark": {"type": "line", "interpolate": "monotone", "strokeWidth": 2},
              "encoding": {
                "x": {"field": "angle", "type": "quantitative", "scale": {"domain": [0, 180], "nice": false},
                  "axis": {"values": [0,5,10,15,20,25,30,35,40,45,50,55,60,65,70,75,80,85,90,95,100,105,110,115,120,125,130,135,140,145,150,155,160,165,170,175,180],
                    "labelExpr": "datum.value % 30 === 0 ? datum.label : ''",
                    "labelOverlap": false, "tickCount": 100,
                    "labelPadding": 17, "title": "Angle (deg)", "titlePadding": 3,
                    "tickSize": {"condition": {"test": "datum.value % 30 === 0", "value": -7}, "value": -4}}},
                "y": {"field": "S", "type": "quantitative", "scale": {"domain": [-1, 1], "nice": false},
                  "axis": {"values": [-1,-0.9,-0.8,-0.7,-0.6,-0.5,-0.4,-0.3,-0.2,-0.1,0,0.1,0.2,0.3,0.4,0.5,0.6,0.7,0.8,0.9,1],
                    "labels": false, "title": null, "labelOverlap": false, "tickCount": 100,
                    "tickSize": {"condition": {"test": "round(datum.value * 10) % 2 === 0", "value": -7}, "value": -4}}},
                "color": {"field": "series", "type": "nominal", "legend": null,
                  "scale": {"domain": ["RCCC", "OP", "Present"], "range": ["#22b04b", "#808080", "#ff0000"]}},
                "strokeDash": {"field": "series", "type": "nominal", "legend": null,
                  "scale": {"domain": ["RCCC", "OP", "Present"], "range": [[1, 0], [5, 3], [1, 0]]}}
              }
            },
            {
              "data": {"name": "curves"},
              "transform": [{"filter": "datum.panel === '15 eV' && datum.series === 'Present'"}],
              "mark": {"type": "line", "interpolate": "monotone", "strokeWidth": 2.5},
              "encoding": {
                "x": {"field": "angle", "type": "quantitative"},
                "y": {"field": "S", "type": "quantitative"},
                "color": {"field": "series", "type": "nominal", "legend": null},
                "strokeDash": {"field": "series", "type": "nominal", "legend": null}
              }
            },
            {
              "data": {"name": "measured"},
              "transform": [{"filter": "datum.panel === '15 eV'"}],
              "mark": {"type": "point", "filled": false, "stroke": "black", "strokeWidth": 1.2, "size": 50, "opacity": 1},
              "encoding": {
                "x": {"field": "angle", "type": "quantitative"},
                "y": {"field": "S", "type": "quantitative"},
                "shape": {"field": "source", "type": "nominal", "legend": null,
                  "scale": {"domain": ["Kaussen et al.", "Hanne et al."], "range": ["diamond", "square"]}}
              }
            },
            {
              "data": {"values": [{"label": "15 eV"}]},
              "mark": {"type": "text", "align": "left", "baseline": "alphabetic", "fontSize": 14, "color": "black"},
              "encoding": {
                "x": {"datum": 10.2, "type": "quantitative"},
                "y": {"datum": 0.87, "type": "quantitative"},
                "text": {"field": "label"}
              }
            }
          ]
        }
      ]
    }
  ]
}
